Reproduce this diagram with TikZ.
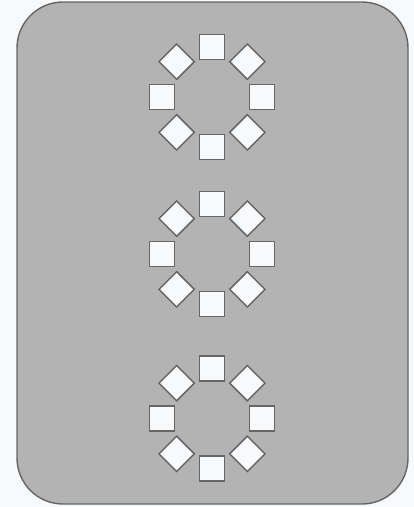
\documentclass[tikz,border=0pt]{standalone}
\usetikzlibrary{calc}
\definecolor{sfondo}{HTML}{F8F9FB}
\definecolor{grigio}{HTML}{B3B3B3}
\definecolor{bordo}{HTML}{666666}
\begin{document}
\begin{tikzpicture}[x=1pt, y=-1pt]
	% Stile per i quadratini
	\tikzset{quadrato/.style={rectangle, draw=bordo, fill=sfondo, line width=1.5pt, minimum size=25pt, inner sep=0pt}}
	
	% Sfondo
	\fill[sfondo] (0,0) rectangle (414,507);
	
	% Pannello grigio
	\node[draw=bordo, fill=grigio, rounded corners=46pt, line width=1.4pt, minimum width=391pt, minimum height=502pt, inner sep=0pt] (pannello) at (212.5,253) {};
	
	% Anelli di quadratini
	\foreach \cy [count=\r] in {97,254,418.5} {
		\foreach \a [count=\k] in {0,45,...,315} {
			\node[quadrato, rotate=\a] (q\r-\k) at ($(212,\cy)+(\a:50)$) {};
		}
	}
\end{tikzpicture}
\end{document}
